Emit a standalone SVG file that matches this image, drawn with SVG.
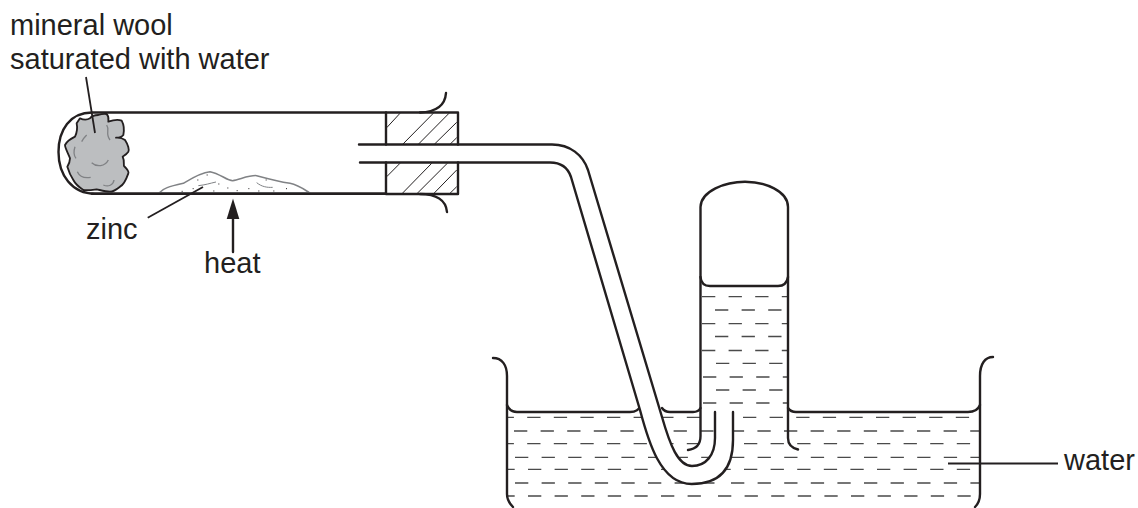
<svg xmlns="http://www.w3.org/2000/svg" width="1138" height="508" viewBox="0 0 1138 508">
<style>
text{font-family:"Liberation Sans",Arial,sans-serif;font-size:29px;fill:#231f20}
.m{fill:none;stroke:#231f20;stroke-width:2.4;stroke-linecap:round;stroke-linejoin:round}
.h{stroke:#231f20;stroke-width:1;fill:none}
.l{stroke:#231f20;stroke-width:1.8;fill:none}
.d line{stroke:#4a4a4a;stroke-width:1.3;stroke-dasharray:13.3 13.3}
</style>
<defs>
<clipPath id="cb"><rect x="508" y="413" width="471" height="95"/></clipPath>
<clipPath id="cj"><rect x="702" y="287" width="85" height="125"/></clipPath>
</defs>
<rect width="1138" height="508" fill="#fff"/>
<g id="water">
<g class="d" clip-path="url(#cb)">
<line x1="500.6" y1="417.3" x2="700" y2="417.3"/><line x1="743" y1="417.3" x2="980" y2="417.3"/>
<line x1="514" y1="431" x2="715" y2="431"/><line x1="730.8" y1="431" x2="980" y2="431"/>
<line x1="500.6" y1="443.7" x2="700" y2="443.7"/><line x1="744" y1="443.7" x2="980" y2="443.7"/>
<line x1="515" y1="457.3" x2="715" y2="457.3"/><line x1="731" y1="457.3" x2="980" y2="457.3"/>
<line x1="501.4" y1="469.3" x2="700" y2="469.3"/><line x1="717.4" y1="469.3" x2="980" y2="469.3"/>
<line x1="515" y1="483" x2="717" y2="483"/><line x1="731" y1="483" x2="980" y2="483"/>
<line x1="501.4" y1="496" x2="703" y2="496"/><line x1="718" y1="496" x2="980" y2="496"/>
</g>
<g class="d" clip-path="url(#cj)">
<line x1="702" y1="296.7" x2="788" y2="296.7"/>
<line x1="715" y1="310" x2="788" y2="310"/>
<line x1="702" y1="323.7" x2="788" y2="323.7"/>
<line x1="715" y1="336.5" x2="788" y2="336.5"/>
<line x1="702" y1="350.5" x2="788" y2="350.5"/>
<line x1="716" y1="363.3" x2="788" y2="363.3"/>
<line x1="703" y1="377" x2="788" y2="377"/>
<line x1="716" y1="390" x2="788" y2="390"/>
<line x1="703" y1="403" x2="788" y2="403"/>
</g>
</g>
<g id="beaker" class="m">
<path d="M493,358C502,358 507,365 507,376V494C507,500 510,504 513,507"/>
<path d="M993,357C985,357 980,364 980,376V494C980,500 978,504 975,507"/>
<path d="M507,405C509,410 512,412 517,412H630C636,412 639,410 640,406"/>
<path d="M662,408C664,411 666,412 670,412H693C697,412 699,411 700.5,408"/>
<path d="M788,408C790,411 792,412 796,412H968C974,412 978,410 980,405"/>
</g>
<g id="gas-jar" class="m">
<path d="M688,450C696,449 700.5,445 700.5,436V207C701,191 725,181.7 745,181.7C765,181.7 788,191 788,207V438C788,444 792,448 798,449.5"/>
<path d="M700.5,277C701,283 704,286 710,286H778C784,286 787,283 788,277"/>
</g>
<g id="delivery-tube">
<path d="M571,177L640,410C648,440 660,484 691.7,484C718,484 733,470 733,440V412H715V438C715,455 706,466 692,466C678,466 670,445 661.7,416L588,170C583,155 570,144.5 552,144.5H458V162.5H550C562,162.5 568,170 571,177Z" fill="#fff"/>
<path class="m" d="M360,162.5H550C562,162.5 568,168 571,177L640,410C648,440 660,484 691.7,484C718,484 733,470 733,440V412"/>
<path class="m" d="M359,144.5H552C570,144.5 583,155 588,170L661.7,416C670,445 678,466 692,466C706,466 715,455 715,438V412"/>
</g>
<g id="test-tube">
<path class="m" d="M386,112.5H92C70,112.5 58.500,130 58.500,152C58.500,175 72,193.700 95,193.700H386"/>
<path class="m" d="M420,112.500C434,112 445,107 446,93"/>
<path class="m" d="M420,194C436,194 446,200 447,212"/>
</g>
<g id="bung">
<path class="m" d="M386,144.500V112.500H458V144.500M386,162.500V194H458V162.500"/>
<path class="h" d="M386.700,127.700L400,113.300M402.700,144.300L433.300,113.300M418.300,144.300L449,113.300M434.300,144.300L456.700,122.300M450,144.300L456.700,137.700M386.700,176.700L400,163.300M401.700,194L431.700,163.300M417.300,193.300L447.300,163.300M433.300,194L456.700,170M449.300,194L456.700,186.700"/>
</g>
<g id="mineral-wool" transform="translate(40,90) scale(.33333)">
<path d="M120,85C135,92 145,88 150,85C155,78 160,75 175,75C190,70 198,72 200,72C208,80 205,90 205,95C225,88 240,90 245,92C255,110 252,125 250,135C245,142 235,143 228,143C245,142 255,150 255,150C265,165 268,180 265,185C258,195 250,198 248,200C255,215 250,225 252,228C262,238 268,245 265,250C258,270 250,285 240,290C230,298 220,305 210,305C195,305 180,300 170,298C155,300 140,302 130,300C115,290 105,280 100,270C90,255 85,240 82,230C88,220 90,212 90,205C85,190 75,175 75,165C80,155 95,145 105,140C112,125 112,110 110,100Z" fill="#bcbec0" stroke="#231f20" stroke-width="5.5" stroke-linejoin="round"/>
<path d="M125,155C130,145 135,140 140,135M200,105C210,120 195,130 210,150M105,170C100,185 100,195 108,205M155,218C170,232 195,230 205,210M112,245C120,262 135,265 152,262M190,285C205,292 220,285 222,270" fill="none" stroke="#808285" stroke-width="4"/>
</g>
<g id="zinc-powder" transform="translate(40,90) scale(.33333)">
<path d="M358,308C370,295 385,290 430,280C450,268 480,248 510,245C540,250 560,272 578,272C600,268 630,255 650,257C680,265 720,275 750,280C775,285 795,300 808,308Z" fill="#fff" stroke="#808285" stroke-width="4.500"/>
<path d="M475,287C495,285 510,280 528,276M650,278C665,290 680,293 698,292" fill="none" stroke="#808285" stroke-width="3"/>
<path d="M425,304h3M458,296h3M472,270h3M500,255h3M535,282h3M562,294h3M590,302h3M625,296h3M655,303h3M677,270h3M700,303h3M738,296h3M520,303h3" fill="none" stroke="#231f20" stroke-width="3"/>
</g>
<g id="test-tube-base"><path class="m" d="M92,193.700H386"/></g>
<g id="connectors">
<path class="l" d="M86,77L95,133"/>
<path class="l" d="M203,187L147.700,217.700"/>
<path class="m" d="M233,214V252"/>
<path d="M233,198.500L226.700,219H239.300Z" fill="#231f20"/>
<path class="l" d="M948,463.500H1058"/>
</g>
<g id="labels">
<text x="10" y="34.700">mineral wool</text>
<text x="10" y="69.300">saturated with water</text>
<text x="86" y="239.300">zinc</text>
<text x="204" y="273">heat</text>
<text x="1064" y="470">water</text>
</g>
</svg>
